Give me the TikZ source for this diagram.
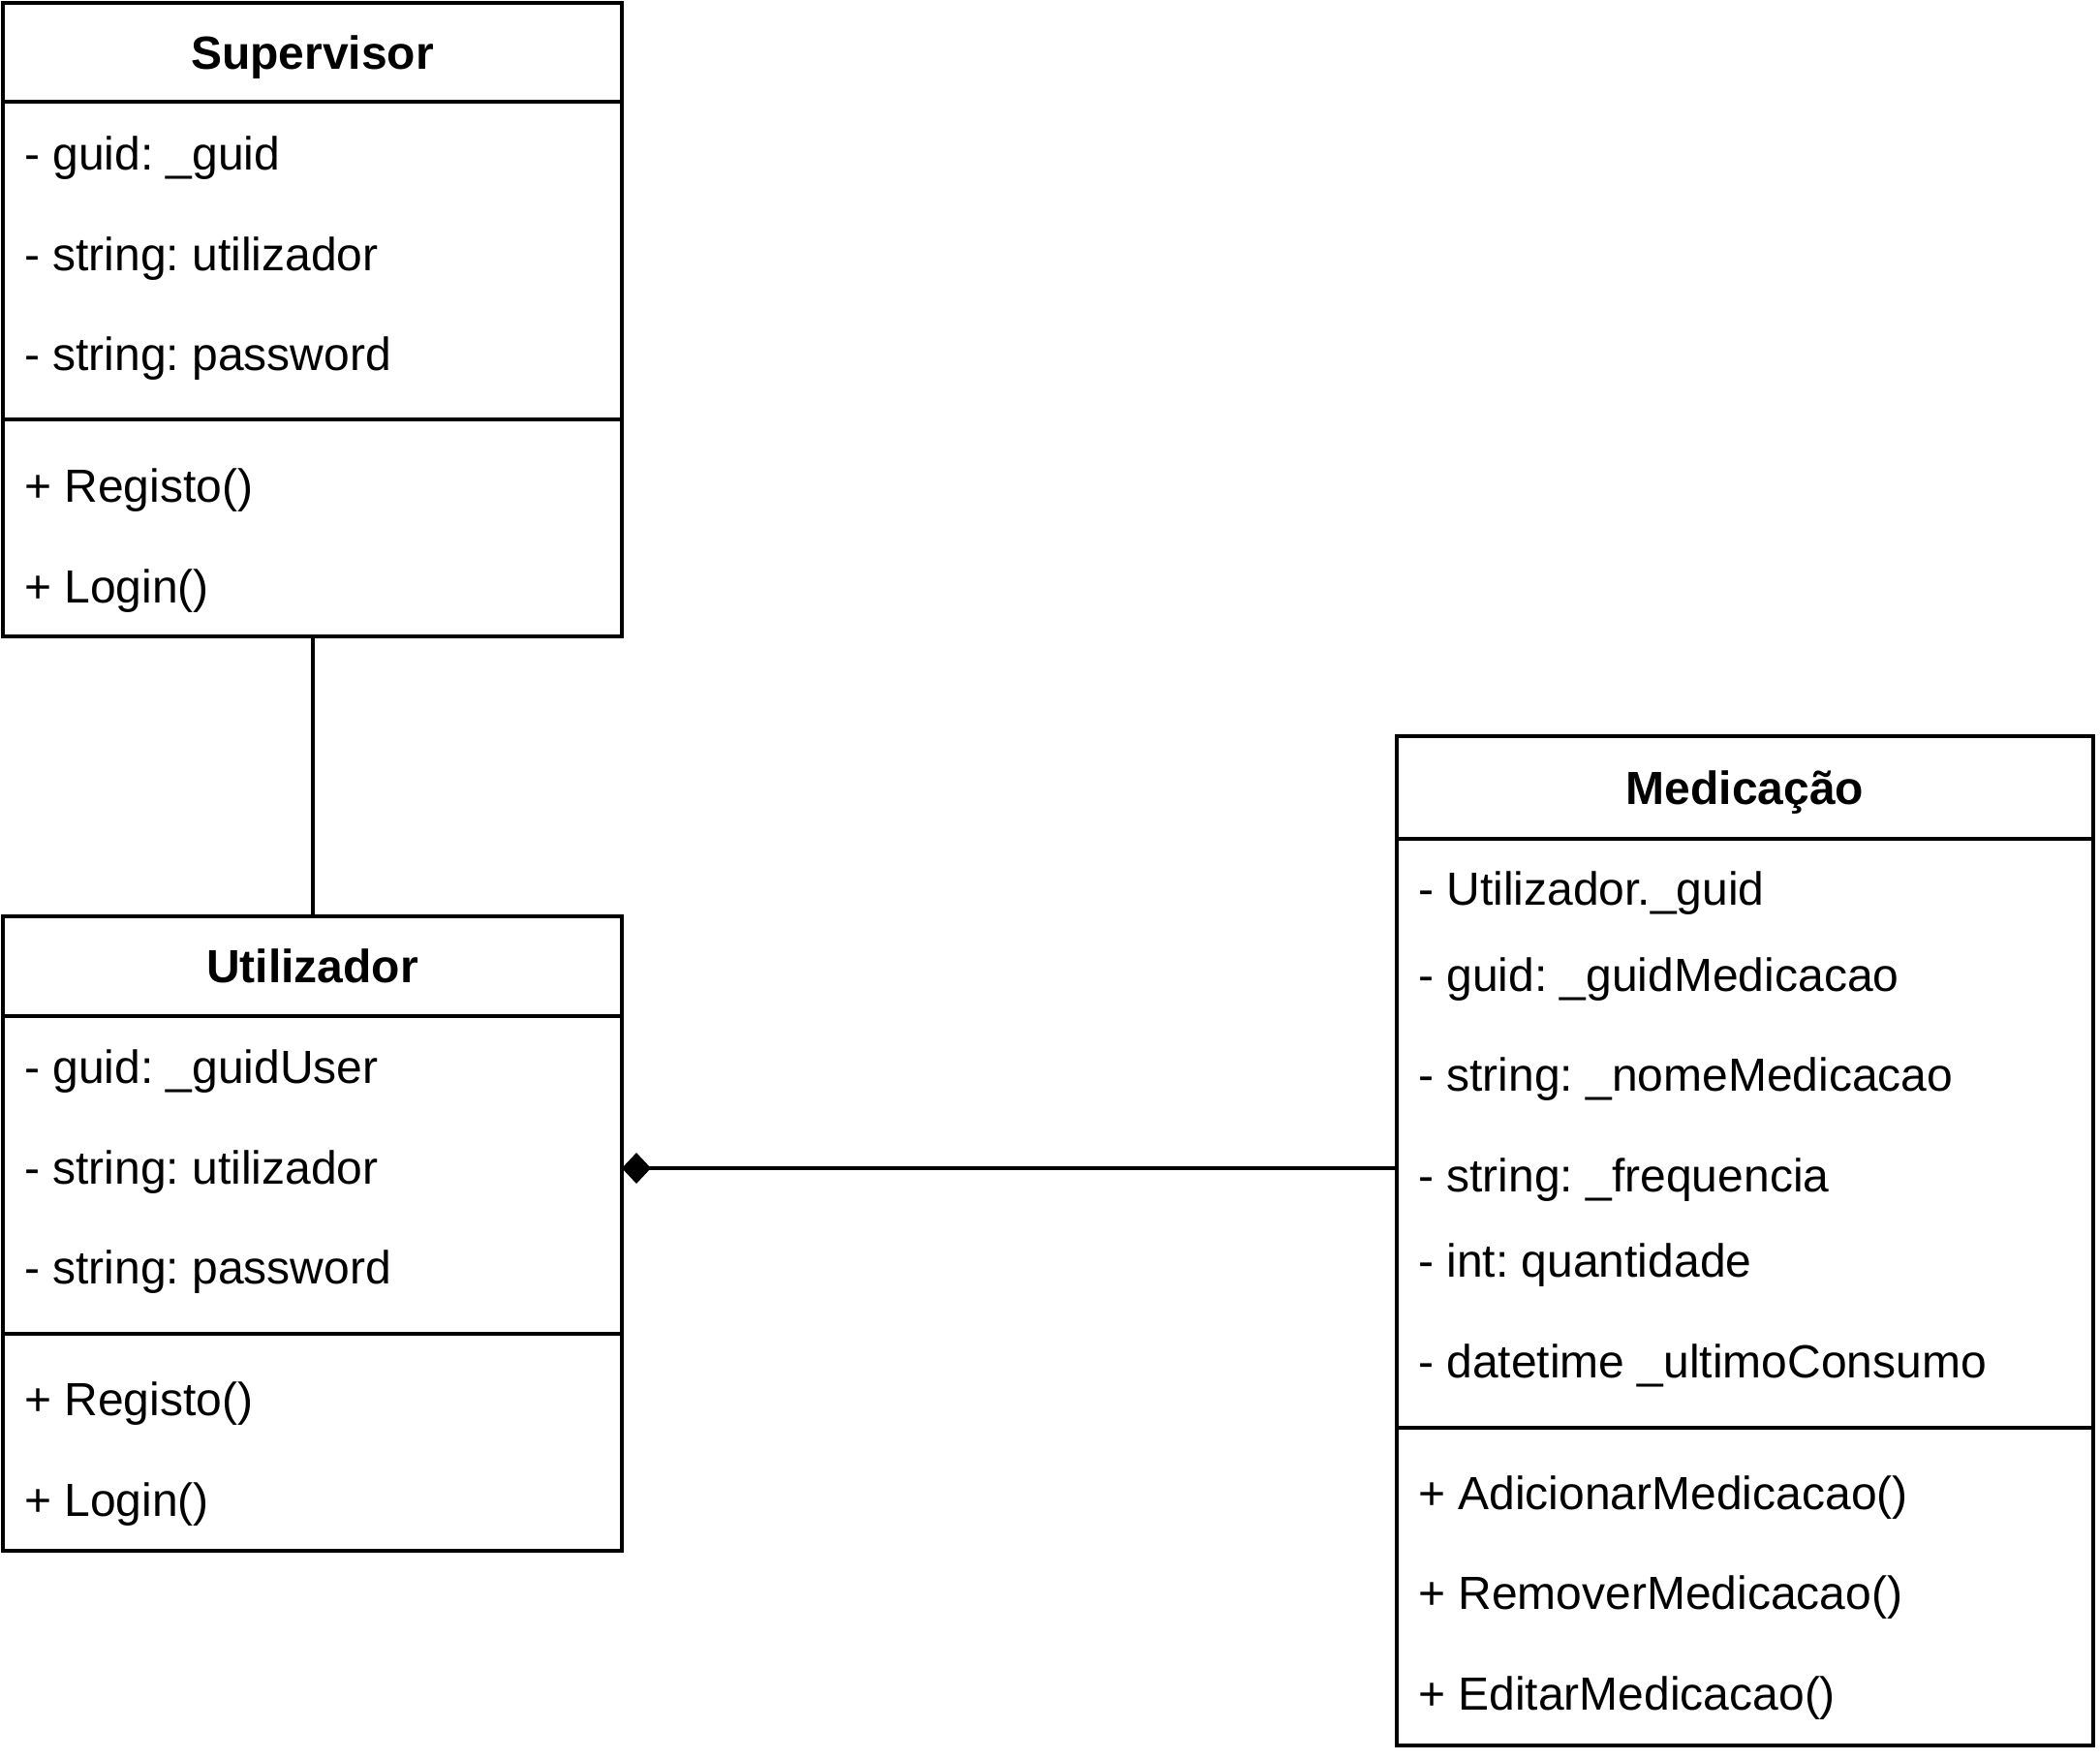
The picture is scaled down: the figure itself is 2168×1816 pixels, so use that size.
\documentclass[tikz,border=0pt]{standalone}
\usepackage{fontspec}
\setmainfont{Liberation Sans}
\frenchspacing
\usetikzlibrary{arrows.meta}
\tikzset{
  classbox/.style={draw, line width=4pt, rectangle, inner sep=0pt, outer sep=0pt, anchor=north west},
  sepline/.style={line width=4pt},
  title/.style={anchor=base, inner sep=0pt, font=\fontsize{48}{57}\selectfont\bfseries},
  member/.style={anchor=base west, inner sep=0pt, font=\fontsize{48}{57}\selectfont},
  conn/.style={line width=4pt},
}
\begin{document}
\frenchspacing
\begin{tikzpicture}[x=1pt,y=-1pt]
\useasboundingbox (0,0) rectangle (2168,1816);
% Supervisor
\node[classbox, minimum width=639pt, minimum height=654pt] (sup) at (3,3) {};
\draw[sepline] (3,105) -- (642,105);
\draw[sepline] (3,433) -- (642,433);
\node[title] (supT) at (322.5,71) {Supervisor};
\node[member] (supA1) at (25,175) {- guid: \_guid};
\node[member] (supA2) at (25,279) {- string: utilizador};
\node[member] (supA3) at (25,382) {- string: password};
\node[member] (supM1) at (25,518) {+ Registo()};
\node[member] (supM2) at (25,622) {+ Login()};
% Utilizador
\node[classbox, minimum width=639pt, minimum height=655pt] (usr) at (3,946) {};
\draw[sepline] (3,1049) -- (642,1049);
\draw[sepline] (3,1377) -- (642,1377);
\node[title] (usrT) at (322.5,1014) {Utilizador};
\node[member] (usrA1) at (25,1118) {- guid: \_guidUser};
\node[member] (usrA2) at (25,1222) {- string: utilizador};
\node[member] (usrA3) at (25,1325) {- string: password};
\node[member] (usrM1) at (25,1461) {+ Registo()};
\node[member] (usrM2) at (25,1565) {+ Login()};
% Medicacao
\node[classbox, minimum width=719pt, minimum height=1042pt] (med) at (1442,760) {};
\draw[sepline] (1442,866) -- (2161,866);
\draw[sepline] (1442,1474) -- (2161,1474);
\node[title] (medT) at (1801.5,830) {Medicação};
\node[member] (medA1) at (1464,934) {- Utilizador.\_guid};
\node[member] (medA2) at (1464,1023) {- guid: \_guidMedicacao};
\node[member] (medA3) at (1464,1126) {- string: \_nomeMedicacao};
\node[member] (medA4) at (1464,1230) {- string: \_frequencia};
\node[member] (medA5) at (1464,1318) {- int: quantidade};
\node[member] (medA6) at (1464,1422) {- datetime \_ultimoConsumo};
\node[member] (medM1) at (1464,1558) {+ AdicionarMedicacao()};
\node[member] (medM2) at (1464,1661) {+ RemoverMedicacao()};
\node[member] (medM3) at (1464,1765) {+ EditarMedicacao()};
% connectors
\draw[conn] (sup.south) -- (usr.north);
\coordinate (medL) at (1442,1206);
\draw[conn, -{Diamond[length=30pt,width=32pt]}] (medL) -- (medL -| usr.east);
\end{tikzpicture}
\end{document}
